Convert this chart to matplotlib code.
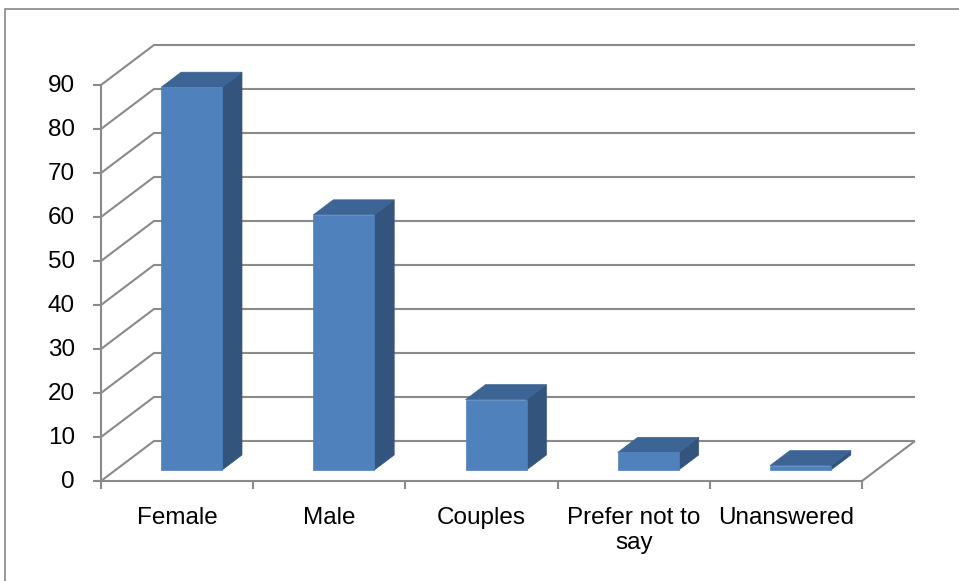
import matplotlib.pyplot as plt
from matplotlib.lines import Line2D
from matplotlib.patches import Polygon

categories = ["Female", "Male", "Couples", "Prefer not to\nsay", "Unanswered"]
values = [87, 58, 16, 4, 1]
y_ticks = list(range(0, 100, 10))

W, H = 959, 581
fig = plt.figure(figsize=(W / 100, H / 100), dpi=100)
ax = fig.add_axes([0, 0, 1, 1])
ax.axis("off")

# pixel anchors of the front plane (category 0..5, value 0..90)
x0_px, x5_px = 101, 862
y0_px, y90_px = 481, 85
px_per_cat = (x5_px - x0_px) / len(categories)
px_per_val = (y0_px - y90_px) / 90
ax.set_xlim(-x0_px / px_per_cat, (W - x0_px) / px_per_cat)
ax.set_ylim(-(H - y0_px) / px_per_val, y0_px / px_per_val)

# 3D depth offset of the back wall
DX = 53 / px_per_cat
DY = 40 / px_per_val
n = len(categories)


def proj(x, v, d):
    return x + d * DX, v + d * DY


grid_kw = dict(color="#8a8a8a", lw=1.5, solid_capstyle="butt", zorder=1)

# back wall + side wall gridlines
for v in y_ticks:
    ax.plot([0, DX, n + DX], [v, v + DY, v + DY], **grid_kw)

# floor front and right edges, y axis
ax.plot([0, n, n + DX], [0, 0, DY], **grid_kw)
ax.plot([0, 0], [0, y_ticks[-1]], **grid_kw)

# tick marks
tick_x = 8 / px_per_cat
tick_y = 8 / px_per_val
for v in y_ticks:
    ax.plot([-tick_x, 0], [v, v], **grid_kw)
for i in range(n + 1):
    ax.plot([i, i], [0, -tick_y], **grid_kw)

# bars
d0, d1 = 0.275, 0.65
hw = 0.2
for i, v in enumerate(values):
    c = i + 0.5
    l, r = c - hw, c + hw
    front = [proj(l, 0, d0), proj(r, 0, d0), proj(r, v, d0), proj(l, v, d0)]
    side = [proj(r, 0, d0), proj(r, 0, d1), proj(r, v, d1), proj(r, v, d0)]
    top = [proj(l, v, d0), proj(r, v, d0), proj(r, v, d1), proj(l, v, d1)]
    ax.add_patch(Polygon(side, closed=True, facecolor="#32547d", edgecolor="#32547d", lw=0.5, zorder=2))
    ax.add_patch(Polygon(top, closed=True, facecolor="#3c6494", edgecolor="#3c6494", lw=0.5, zorder=2))
    ax.add_patch(Polygon(front, closed=True, facecolor="#4f81bd", edgecolor="#4f81bd", lw=0.5, zorder=3))

font = dict(family="Liberation Sans", fontsize=17.5, color="black")

for v in y_ticks:
    ax.annotate(str(v), (0, v), xytext=(-26, -1), textcoords="offset pixels",
                ha="right", va="center", **font)

for i, lab in enumerate(categories):
    ax.annotate(lab, (i + 0.5, 0), xytext=(0, -26), textcoords="offset pixels",
                ha="center", va="top", linespacing=1.15, **font)

# outer chart frame
fig.add_artist(Line2D([5 / W, 5 / W, 1], [0, 1 - 9 / H, 1 - 9 / H],
                      transform=fig.transFigure, color="#868686", lw=1.2))

fig.savefig("out.png", dpi=100)
